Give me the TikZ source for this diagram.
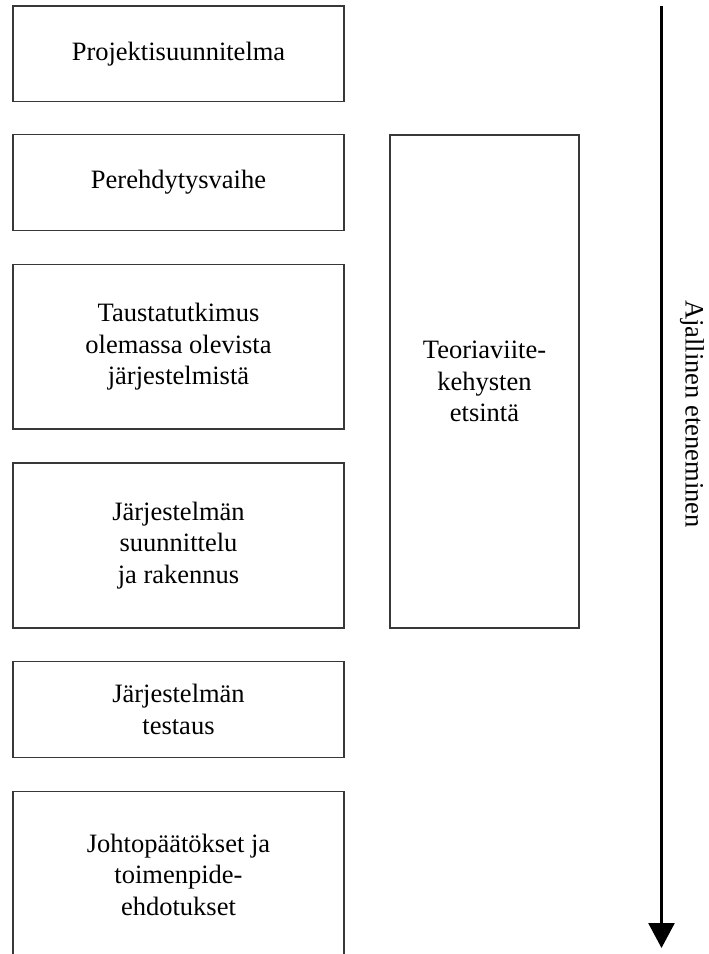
\documentclass[tikz,border=0pt]{standalone}
\usepackage{fontspec}
\setmainfont{Liberation Serif}
\usetikzlibrary{arrows.meta}
\begin{document}
\begin{tikzpicture}[x=1pt,y=-1pt,
  phase/.style={draw=black!78, line width=1.7pt, align=center, inner sep=0pt,
    font=\fontsize{26.5}{31.5}\selectfont},
  leftbox/.style={phase, minimum width=331pt},
  timeline/.style={line width=2.6pt, -{Triangle[width=26pt,length=25pt]}}]
\useasboundingbox (0,0) rectangle (709,954);
\clip (0,0) rectangle (709,954);
\node[leftbox, minimum height=95.5pt]  (p1) at (178.5,53.75) {Projektisuunnitelma};
\node[leftbox, minimum height=96pt]    (p2) at (178.5,182.5) {Perehdytysvaihe};
\node[leftbox, minimum height=164.5pt] (p3) at (178.5,346.75) {Taustatutkimus\\olemassa olevista\\järjestelmistä};
\node[leftbox, minimum height=165pt]   (p4) at (178.5,545.5) {Järjestelmän\\suunnittelu\\ja rakennus};
\node[leftbox, minimum height=96pt]    (p5) at (178.5,709.5) {Järjestelmän\\testaus};
\node[leftbox, minimum height=166pt]   (p6) at (178.5,874.5) {Johtopäätökset ja\\toimenpide-\\ehdotukset};
\node[phase, minimum width=189pt, minimum height=493pt] (th) at (484.5,381.5) {Teoriaviite-\\kehysten\\etsintä};
\coordinate (tstart) at (661.5,6);
\coordinate (tend) at (661.5,948);
\draw[timeline] (tstart) -- (tend);
\node[rotate=-90, inner sep=0pt, font=\fontsize{26.5}{31.5}\selectfont] (tl) at (692,414) {Ajallinen eteneminen};
\end{tikzpicture}
\end{document}
